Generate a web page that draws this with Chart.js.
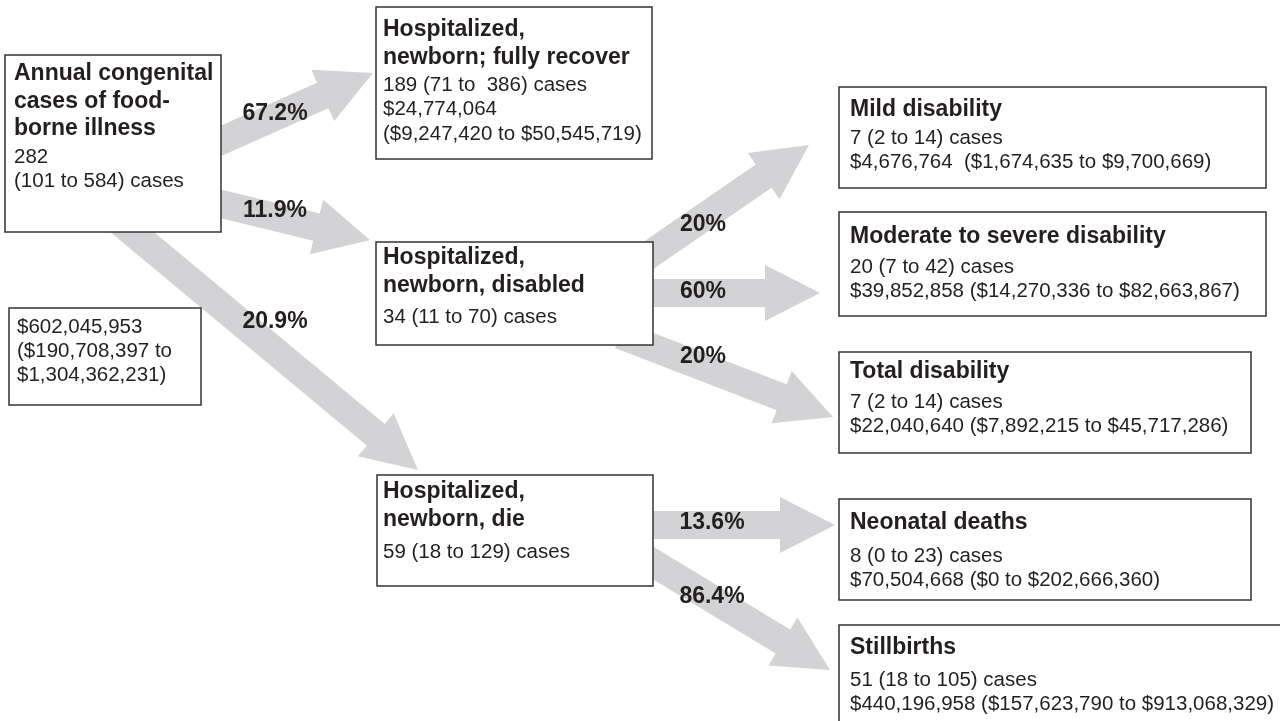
<!DOCTYPE html>
<html>
<head>
<meta charset="utf-8">
<script src="https://cdn.jsdelivr.net/npm/chart.js@4.4.1/dist/chart.umd.min.js"></script>
<style>
  html, body { margin: 0; padding: 0; background: #fff; }
  #wrap { width: 1280px; height: 721px; position: relative; }
</style>
</head>
<body>
<div id="wrap"><canvas id="c"></canvas></div>
<script>
// --- data ---
const nodeTitles = [
  ['Annual congenital', 'cases of food-', 'borne illness'],
  ['Hospitalized,', 'newborn; fully recover'],
  ['Hospitalized,', 'newborn, disabled'],
  ['Hospitalized,', 'newborn, die'],
  ['Mild disability'],
  ['Moderate to severe disability'],
  ['Total disability'],
  ['Neonatal deaths'],
  ['Stillbirths']
];
const nodeDetails = [
  ['282', '(101 to 584) cases'],
  ['189 (71 to  386) cases', '$24,774,064', '($9,247,420 to $50,545,719)'],
  ['34 (11 to 70) cases'],
  ['59 (18 to 129) cases'],
  ['7 (2 to 14) cases', '$4,676,764  ($1,674,635 to $9,700,669)'],
  ['20 (7 to 42) cases', '$39,852,858 ($14,270,336 to $82,663,867)'],
  ['7 (2 to 14) cases', '$22,040,640 ($7,892,215 to $45,717,286)'],
  ['8 (0 to 23) cases', '$70,504,668 ($0 to $202,666,360)'],
  ['51 (18 to 105) cases', '$440,196,958 ($157,623,790 to $913,068,329)']
];
const totalCost = ['$602,045,953', '($190,708,397 to', '$1,304,362,231)'];
const flowLabels = ['67.2%', '11.9%', '20.9%', '20%', '60%', '20%', '13.6%', '86.4%'];

// --- layout (diagram coordinates, px) ---
const boxes = [
  [5, 55, 221, 232],
  [376, 7, 652, 159],
  [376, 242, 653, 345],
  [377, 475, 653, 586],
  [839, 87, 1266, 188],
  [839, 212, 1266, 316],
  [839, 352, 1251, 453],
  [839, 499, 1251, 600],
  [839, 625, 1295, 740]
];
// text x, first title line y, first detail line y
const textPos = [
  [14, 74, 157],
  [383, 30, 85],
  [383, 258, 317],
  [383, 492, 552],
  [850, 110, 138],
  [850, 237, 267],
  [850, 372, 402],
  [850, 523, 556],
  [850, 648, 680]
];
const costBox = [9, 308, 201, 405];
const costText = [17, 327];
// shaft start -> arrow tip
const arrows = [
  [205, 148, 373, 73],
  [205, 200, 370, 240],
  [120, 222, 418, 470],
  [630, 268, 809, 145],
  [640, 293, 820, 293],
  [620, 335, 833, 417],
  [640, 525, 835, 525],
  [630, 549, 830, 670]
];
const labelPos = [
  [275, 114], [275, 211], [275, 322],
  [703, 225], [703, 292], [703, 357],
  [712, 523], [712, 597]
];

const ARROW = '#d3d3d5';
const INK = '#231f20';
const BOLD = 'bold 23px "Liberation Sans", Arial, sans-serif';
const REG = '20.5px "Liberation Sans", Arial, sans-serif';

const diagram = {
  id: 'diagram',
  afterDraw(chart) {
    const { ctx, scales: { x, y } } = chart;
    const px = v => x.getPixelForValue(v);
    const py = v => y.getPixelForValue(v);

    ctx.save();
    // arrows
    ctx.fillStyle = ARROW;
    arrows.forEach(a => {
      const x0 = px(a[0]), y0 = py(a[1]), x1 = px(a[2]), y1 = py(a[3]);
      const ang = Math.atan2(y1 - y0, x1 - x0);
      const len = Math.hypot(x1 - x0, y1 - y0);
      const sw = 14, hw = 28, hl = 55;
      ctx.save();
      ctx.translate(x0, y0);
      ctx.rotate(ang);
      ctx.beginPath();
      ctx.moveTo(0, -sw);
      ctx.lineTo(len - hl, -sw);
      ctx.lineTo(len - hl, -hw);
      ctx.lineTo(len, 0);
      ctx.lineTo(len - hl, hw);
      ctx.lineTo(len - hl, sw);
      ctx.lineTo(0, sw);
      ctx.closePath();
      ctx.fill();
      ctx.restore();
    });

    // boxes
    const drawBox = b => {
      const l = px(b[0]), t = py(b[1]), r = px(b[2]), btm = py(b[3]);
      ctx.fillStyle = '#fff';
      ctx.fillRect(l, t, r - l, btm - t);
      ctx.strokeStyle = '#333';
      ctx.lineWidth = 1.5;
      ctx.strokeRect(l, t, r - l, btm - t);
    };
    boxes.forEach(drawBox);
    drawBox(costBox);

    // text
    ctx.fillStyle = INK;
    ctx.textAlign = 'left';
    ctx.textBaseline = 'middle';
    boxes.forEach((b, i) => {
      const [tx, ty, dy] = textPos[i];
      ctx.font = BOLD;
      nodeTitles[i].forEach((s, k) => ctx.fillText(s, px(tx), py(ty + k * 27.5)));
      ctx.font = REG;
      nodeDetails[i].forEach((s, k) => ctx.fillText(s, px(tx), py(dy + k * 24.5)));
    });
    ctx.font = REG;
    totalCost.forEach((s, k) => ctx.fillText(s, px(costText[0]), py(costText[1] + k * 24)));

    // flow percentages
    ctx.font = BOLD;
    ctx.textAlign = 'center';
    flowLabels.forEach((s, i) => ctx.fillText(s, px(labelPos[i][0]), py(labelPos[i][1])));
    ctx.restore();
  }
};

new Chart(document.getElementById('c'), {
  type: 'scatter',
  data: { datasets: [{ data: [], pointRadius: 0 }] },
  options: {
    responsive: true,
    maintainAspectRatio: false,
    animation: false,
    layout: { padding: 0 },
    plugins: { legend: { display: false }, tooltip: { enabled: false } },
    scales: {
      x: { type: 'linear', min: 0, max: 1280, display: false },
      y: { type: 'linear', min: 0, max: 721, reverse: true, display: false }
    }
  },
  plugins: [diagram]
});
</script>
</body>
</html>
